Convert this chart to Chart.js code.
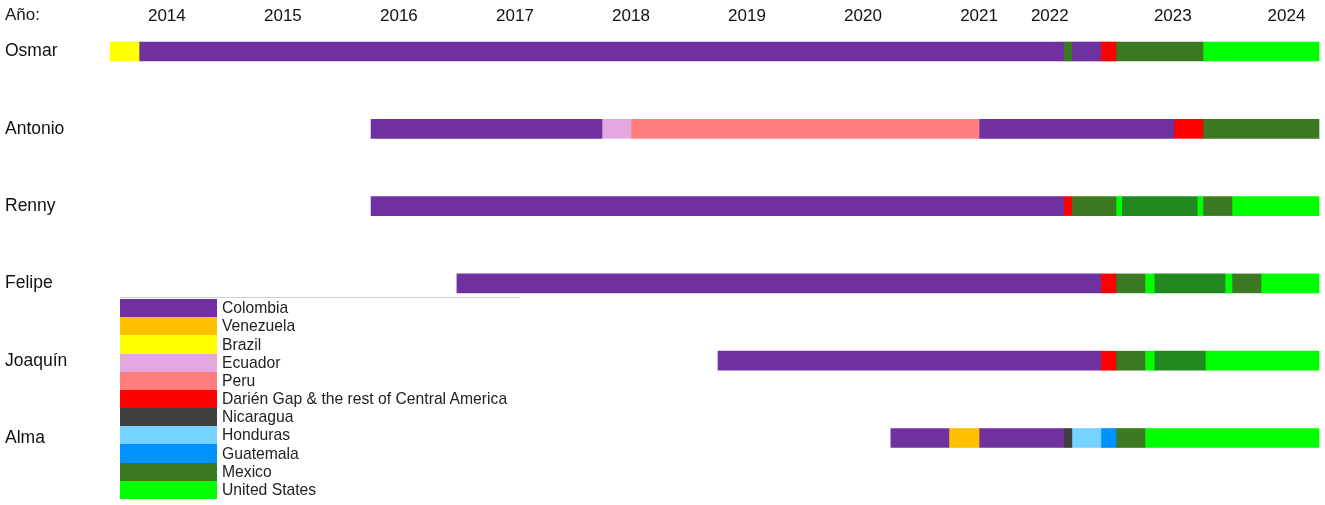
<!DOCTYPE html>
<html>
<head>
<meta charset="utf-8">
<script src="https://cdn.jsdelivr.net/npm/chart.js@4/dist/chart.umd.min.js"></script>
<style>
  html, body { margin: 0; padding: 0; background: #fff; }
  #wrap { position: relative; width: 1325px; height: 505px; font-family: "Liberation Sans", Arial, sans-serif; }
  #yearTitle { position: absolute; left: 5px; top: 5px; font-size: 17px; color: #1a1a1a; }
  #legend { position: absolute; left: 120px; top: 297px; width: 400px; border-top: 1px solid #cfcfcf; padding-top: 1px; }
  #legend .row { height: 18.18px; display: flex; align-items: center; }
  #legend .sw { width: 97px; height: 100%; }
  #legend .lbl { margin-left: 5px; font-size: 15.7px; color: #222; line-height: 1; }
</style>
</head>
<body>
<div id="wrap">
  <canvas id="chart" width="1325" height="505"></canvas>
  <div id="yearTitle">Año:</div>
  <div id="legend"></div>
</div>
<script>
// filas y leyenda
const people = ['Osmar', 'Antonio', 'Renny', 'Felipe', 'Joaquín', 'Alma'];
const countryKeys = ['CO', 'VE', 'BR', 'EC', 'PE', 'DG', 'NI', 'HN', 'GT', 'MX', 'US'];
const countryNames = ['Colombia', 'Venezuela', 'Brazil', 'Ecuador', 'Peru',
  'Darién Gap & the rest of Central America', 'Nicaragua', 'Honduras', 'Guatemala',
  'Mexico', 'United States'];
const countryColors = ['#7030A0', '#FFC000', '#FFFF00', '#E4A8E1', '#FF7F7F',
  '#FF0000', '#404040', '#75D4FF', '#0092FF', '#3B7A23', '#00FF00'];
// tramos verde oscuro que no salen en la leyenda
const extraKey = 'MX2';
const extraColor = '#21891F';

// eje de años (posiciones)
const yearLabels = ['2014', '2015', '2016', '2017', '2018', '2019', '2020', '2021', '2022', '2023', '2024'];
const yearTickPos = [2014, 2015, 2016, 2017, 2018, 2019, 2020, 2021, 2021.61, 2022.67, 2023.65];

// recorridos: bordes (n+1) y lugares (n)
const osmarEdges   = [2013.51, 2013.76, 2021.73, 2021.80, 2022.05, 2022.18, 2022.93, 2023.93];
const osmarPlaces  = ['BR', 'CO', 'MX', 'CO', 'DG', 'MX', 'US'];
const antonioEdges  = [2015.76, 2017.75, 2018.00, 2021.00, 2022.68, 2022.93, 2023.93];
const antonioPlaces = ['CO', 'EC', 'PE', 'CO', 'DG', 'MX'];
const rennyEdges   = [2015.76, 2021.73, 2021.80, 2022.18, 2022.23, 2022.88, 2022.93, 2023.18, 2023.93];
const rennyPlaces  = ['CO', 'DG', 'MX', 'US', 'MX2', 'US', 'MX', 'US'];
const felipeEdges  = [2016.50, 2022.05, 2022.18, 2022.43, 2022.51, 2023.12, 2023.18, 2023.43, 2023.93];
const felipePlaces = ['CO', 'DG', 'MX', 'US', 'MX2', 'US', 'MX', 'US'];
const joaquinEdges  = [2018.75, 2022.05, 2022.18, 2022.43, 2022.51, 2022.95, 2023.93];
const joaquinPlaces = ['CO', 'DG', 'MX', 'US', 'MX2', 'US'];
const almaEdges    = [2020.24, 2020.74, 2021.00, 2021.73, 2021.80, 2022.05, 2022.18, 2022.43, 2023.93];
const almaPlaces   = ['CO', 'VE', 'CO', 'NI', 'HN', 'GT', 'MX', 'US'];

const routes = [
  [osmarEdges, osmarPlaces],
  [antonioEdges, antonioPlaces],
  [rennyEdges, rennyPlaces],
  [felipeEdges, felipePlaces],
  [joaquinEdges, joaquinPlaces],
  [almaEdges, almaPlaces]
];

function colorOf(key) {
  if (key === extraKey) return extraColor;
  return countryColors[countryKeys.indexOf(key)];
}

// un dataset por posición de tramo, todos superpuestos en la misma fila
const maxSeg = Math.max(...routes.map(r => r[1].length));
const datasets = [];
for (let k = 0; k < maxSeg; k++) {
  datasets.push({
    label: 'tramo ' + (k + 1),
    data: routes.map(r => r[1][k] ? [r[0][k], r[0][k + 1]] : null),
    backgroundColor: routes.map(r => r[1][k] ? colorOf(r[1][k]) : 'transparent'),
    borderWidth: 0,
    borderSkipped: false,
    grouped: false,
    barThickness: 19,
    clip: false
  });
}

new Chart(document.getElementById('chart'), {
  type: 'bar',
  data: { labels: people, datasets: datasets },
  options: {
    indexAxis: 'y',
    responsive: false,
    animation: false,
    layout: { padding: { left: 5, right: 6, top: 0, bottom: 67 } },
    plugins: { legend: { display: false }, tooltip: { enabled: false } },
    scales: {
      x: {
        type: 'linear',
        position: 'top',
        min: 2013.51,
        max: 2023.93,
        grid: { display: false, drawTicks: false },
        border: { display: false },
        afterBuildTicks: s => { s.ticks = yearTickPos.map(v => ({ value: v })); },
        afterFit: s => { s.height = 51.5; s.paddingLeft = 0; s.paddingRight = 0; },
        ticks: {
          autoSkip: false,
          maxRotation: 0,
          padding: 25,
          color: '#111',
          font: { family: '"Liberation Sans", Arial, sans-serif', size: 17 },
          callback: (v, i) => yearLabels[i]
        }
      },
      y: {
        type: 'category',
        offset: false,
        grid: { display: false, drawTicks: false },
        border: { display: false },
        afterFit: s => { s.width = 105; s.paddingTop = 0; s.paddingBottom = 0; },
        ticks: {
          crossAlign: 'far',
          color: '#111',
          font: { family: '"Liberation Sans", Arial, sans-serif', size: 17.5 }
        }
      }
    }
  }
});

// leyenda a mano, como en la figura
const legend = document.getElementById('legend');
countryNames.forEach((name, i) => {
  legend.innerHTML += `<div class="row"><div class="sw" style="background:${countryColors[i]}"></div><span class="lbl">${name}</span></div>`;
});
</script>
</body>
</html>
